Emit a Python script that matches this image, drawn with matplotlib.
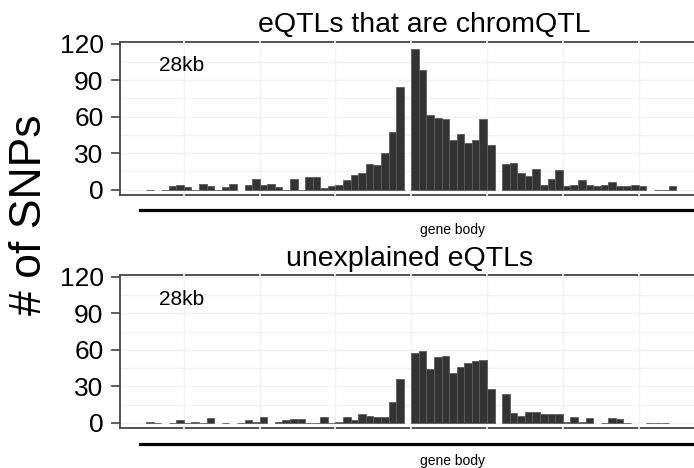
import numpy as np
import matplotlib
matplotlib.use("Agg")
import matplotlib.pyplot as plt
from matplotlib.transforms import blended_transform_factory

plt.rcParams['font.family'] = ['Liberation Sans', 'DejaVu Sans']

nan = np.nan

# SNP counts per positional bin (upstream -> gene body -> downstream); NaN = bin absent
bins = np.arange(70)
chromqtl_counts = [
    0, nan, 0, 3, 4, 2, 0, 5, 3, 0,
    2, 5, nan, 4, 9, 4, 5, 2, 0, 9,
    0, 10, 10, 1, 3, 4, 8, 12, 14, 21,
    20, 30, 47, 84, nan, 116, 98, 61, 59, 58,
    41, 46, 38, 41, 58, 37, nan, 21, 22, 14,
    11, 17, 4, 9, 16, 3, 4, 8, 4, 3,
    4, 6, 3, 3, 4, 3, nan, 0, 0, 3,
]
unexplained_counts = [
    1, 0, nan, 0, 2, 0, 1, 0, 4, nan,
    0, nan, 0, 2, 1, 5, nan, 1, 2, 3,
    3, 0, 0, 5, 0, 1, 5, 2, 7, 6,
    5, 5, 17, 36, nan, 57, 59, 44, 54, 55,
    41, 46, 49, 51, 52, 28, nan, 24, 8, 6,
    9, 9, 7, 7, 7, 1, 5, 1, 4, nan,
    0, 4, 3, 0, nan, nan, 0, 0, 0, nan,
]

panel_titles = ["eQTLs that are chromQTL", "unexplained eQTLs"]
panel_series = [chromqtl_counts, unexplained_counts]
y_ticks = [0, 30, 60, 90, 120]
window_label = "28kb"
region_label = "gene body"

W, H = 694, 468
fig = plt.figure(figsize=(W / 100, H / 100), dpi=100)


def fx(px):
    return px / W


def fy(py):
    return 1 - py / H


panel_boxes = [(41.7, 195.0), (274.7, 428.3)]
left_px, right_px = 119.5, 703.0
title_pos = [(424.5, 32.0), (410.0, 266.0)]
label_y = [65.5, 299.5]
line_y = [209.7, 443.5]
region_text_y = [229.8, 461.5]

for k in range(2):
    top_px, bot_px = panel_boxes[k]
    ax = fig.add_axes([fx(left_px), fy(bot_px), fx(right_px - left_px),
                       (bot_px - top_px) / H])
    vals = np.array(panel_series[k], dtype=float)
    ok = ~np.isnan(vals)

    # faint background grid
    for gx in range(5, 76, 10):
        ax.axvline(gx, color='#f2f2f2', lw=1.0, zorder=0)
    for gy in range(0, 121, 15):
        ax.axhline(gy, color='#f2f2f2', lw=1.0, zorder=0)

    ax.bar(bins[ok] + 0.5, vals[ok], width=1.0, color='#333333',
           edgecolor='#5c5c5c', linewidth=0.6, zorder=2)

    ax.set_xlim(-3.5, 73.5)
    ax.set_ylim(-4.4, 121.6)
    ax.set_xticks([])
    ax.set_yticks(y_ticks)
    ax.tick_params(axis='y', length=6.5, width=1.1, color='#333333',
                   labelsize=19, labelcolor='#000000', pad=5)

    for side in ('left', 'top', 'bottom'):
        ax.spines[side].set_color('#444444')
        ax.spines[side].set_linewidth(1.3)
    ax.spines['right'].set_visible(False)

    # light breaks where the grid meets the panel border
    tr = blended_transform_factory(ax.transData, ax.transAxes)
    for gx in range(5, 76, 10):
        for yb in (0.0, 1.0):
            ax.plot([gx, gx], [yb - 0.012, yb + 0.012], color='#f4f4f4',
                    lw=1.2, transform=tr, clip_on=False, zorder=5)

    fig.text(fx(182), fy(label_y[k]), window_label, fontsize=15,
             ha='center', va='center', color='black')

    fig.text(fx(title_pos[k][0]), fy(title_pos[k][1]), panel_titles[k],
             fontsize=20.5, ha='center', va='baseline', color='black')

    # gene body bar beneath the panel
    fig.add_artist(plt.Line2D([fx(139.8), fx(700)], [fy(line_y[k])] * 2,
                              color='black', lw=2.3, transform=fig.transFigure))
    fig.text(fx(452), fy(region_text_y[k]), region_label, fontsize=10,
             ha='center', va='center', color='black')

fig.text(fx(30), fy(215), "# of SNPs", fontsize=32, rotation=90,
         ha='center', va='center', color='black')

fig.savefig("out.png", dpi=100)
